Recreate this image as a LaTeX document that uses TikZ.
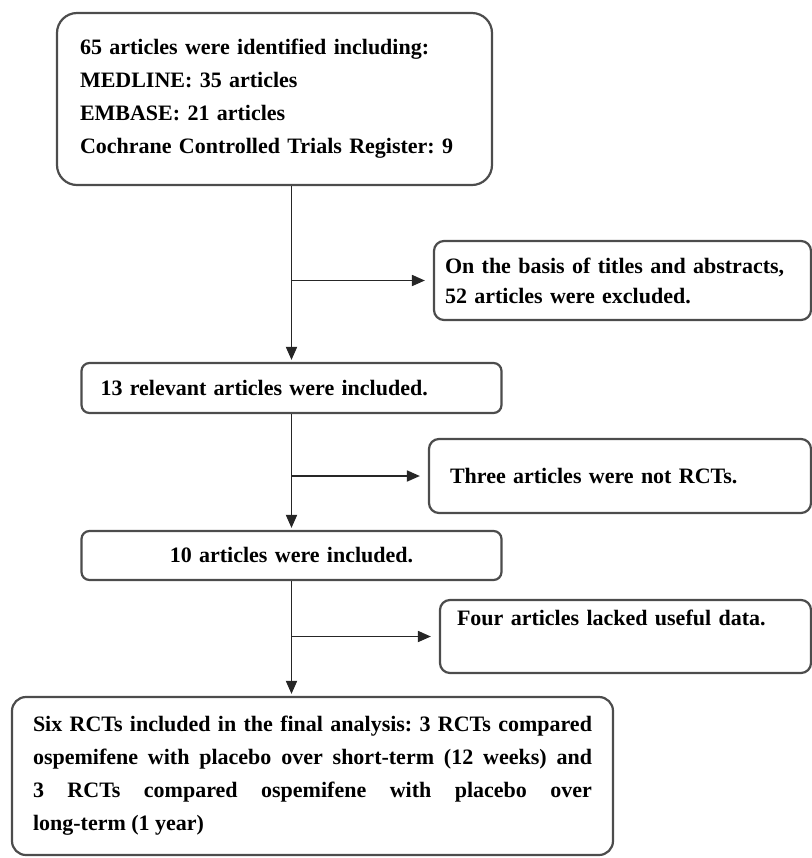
\documentclass[tikz,border=0pt]{standalone}
\usepackage{fontspec}
\setmainfont{Liberation Serif}
\usetikzlibrary{arrows.meta}

\begin{document}
\begin{tikzpicture}[
    x=0.5pt, y=-0.5pt,  % unidades de pixel
    ->,                 % seta em todas as linhas
    >={Triangle[length=6.5pt,width=5.5pt]},
    shorten >=1pt,      % pequeno espaço antes do nó
    line width=0.9pt,
    draw=black!85,
    font=\bfseries\frenchspacing\fontsize{11}{16.5}\selectfont,
    box/.style={draw=black!70, line width=1.1pt, rounded corners=4pt, inner ysep=0pt},
    bigbox/.style={box, rounded corners=10pt},
    sidebox/.style={box, rounded corners=5pt, align=left},
    side/.style={shorten >=4pt}
  ]
  \useasboundingbox (0,0) rectangle (812,858);

  % --- CAIXAS PRINCIPAIS ---
  \node[bigbox, align=left, inner xsep=11.5pt, text width=194.5pt, minimum height=86pt]
    (found) at (274.5,99) {65 articles were identified including:\\MEDLINE: 35 articles\\EMBASE: 21 articles\\Cochrane Controlled Trials Register: 9};
  \node[box, align=left, inner xsep=9.5pt, text width=191pt, minimum height=25pt]
    (relevant) at (291.5,388) {13 relevant articles were included.};
  \node[box, align=center, inner xsep=9.5pt, text width=191pt, minimum height=24.5pt]
    (included) at (291.5,555.5) {10 articles were included.};
  \node[box, rounded corners=7pt, align=justify, inner xsep=10.5pt, text width=279.5pt, minimum height=79pt]
    (six) at (312.5,776) {Six RCTs included in the final analysis: 3 RCTs compared\linebreak ospemifene with placebo over short-term (12 weeks) and\linebreak 3 RCTs compared ospemifene with placebo over\linebreak long-term (1 year)};

  % --- CAIXAS DE EXCLUSÃO ---
  \node[sidebox, inner xsep=5.5pt, text width=177.5pt, minimum height=39.5pt, font=\bfseries\frenchspacing\fontsize{11}{15}\selectfont]
    (titles) at (622.5,280.5) {On the basis of titles and abstracts,\\52 articles were excluded.};
  \node[sidebox, inner xsep=10.5pt, text width=170pt, minimum height=37pt]
    (notrct) at (620,476) {Three articles were not RCTs.};
  \node[sidebox, inner xsep=8.5pt, text width=168.5pt, text height=12.5pt, text depth=24pt]
    (nodata) at (625.5,636.5) {Four articles lacked useful data.};

  % --- LIGAÇÕES ---
  \draw (found.south -| relevant.north) -- (relevant.north);
  \draw[side] (titles.west -| relevant.north) -- (titles.west);
  \draw (relevant.south) -- (included.north);
  \draw[side] (notrct.west -| relevant.south) -- (notrct.west);
  \draw (included.south) -- (included.south |- six.north);
  \draw[side] (nodata.west -| included.south) -- (nodata.west);

\end{tikzpicture}
\end{document}
